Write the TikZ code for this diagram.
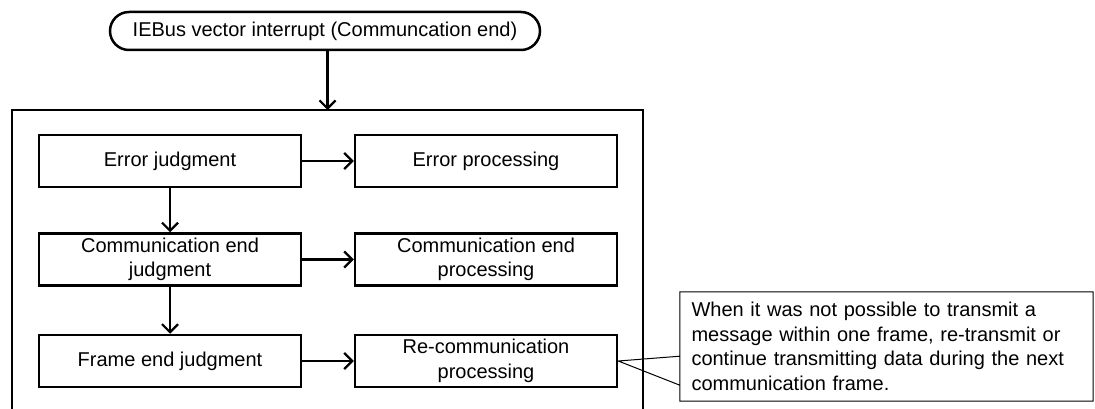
\documentclass[tikz,border=0pt]{standalone}
\usepackage{fontspec}
\setmainfont{Liberation Sans}
\usetikzlibrary{arrows.meta}
\begin{document}
\begin{tikzpicture}[x=1pt,y=-1pt,
  every node/.style={font=\fontsize{20}{24.5}\selectfont},
  procbox/.style={draw,line width=2.5pt,minimum width=262pt,minimum height=52pt,align=center,inner sep=2pt},
  startbox/.style={draw,line width=2.5pt,rounded corners=19pt,minimum width=430pt,minimum height=38pt,inner sep=0pt},
  flow/.style={line width=2.2pt,-{Straight Barb[length=8pt,width=16pt,line width=2.2pt]}},
  note/.style={inner sep=0pt,minimum width=413pt,minimum height=109pt,text width=390pt,align=left}]
\useasboundingbox (0,0) rectangle (1095,409);
\node[startbox] (top) at (325,31) {IEBus vector interrupt (Communcation end)};
% frame
\coordinate (fin) at (327.5,110);
\draw[line width=2.5pt] (12,410) -- (12,110) -- (643,110) -- (643,410);
\node[procbox] (ej) at (170,161) {Error judgment};
\node[procbox] (cj) at (170,259.5) {Communication end\\judgment};
\node[procbox] (fj) at (170,361) {Frame end judgment};
\node[procbox] (ep) at (486,161) {Error processing};
\node[procbox] (cp) at (486,259.5) {Communication end\\processing};
\node[procbox] (rp) at (486,361) {Re-communication\\processing};
\draw[flow] (top.south -| fin) -- (fin);
\draw[flow] (ej) -- (cj);
\draw[flow] (cj) -- (fj);
\draw[flow] (ej) -- (ep);
\draw[flow] (cj) -- (cp);
\draw[flow] (fj) -- (rp);
\node[note] (c) at (886.5,346.5) {When it was not possible to transmit a\\message within one frame, re-transmit or\\continue transmitting data during the next\\communication frame.};
\draw[line width=1pt] (c.south west) -- (c.north west) -- (c.north east) -- (c.south east) -- (c.south west) -- ([yshift=16pt]c.south west) -- (rp.east) -- ([yshift=45pt]c.south west) -- (c.south west);
\end{tikzpicture}
\end{document}
